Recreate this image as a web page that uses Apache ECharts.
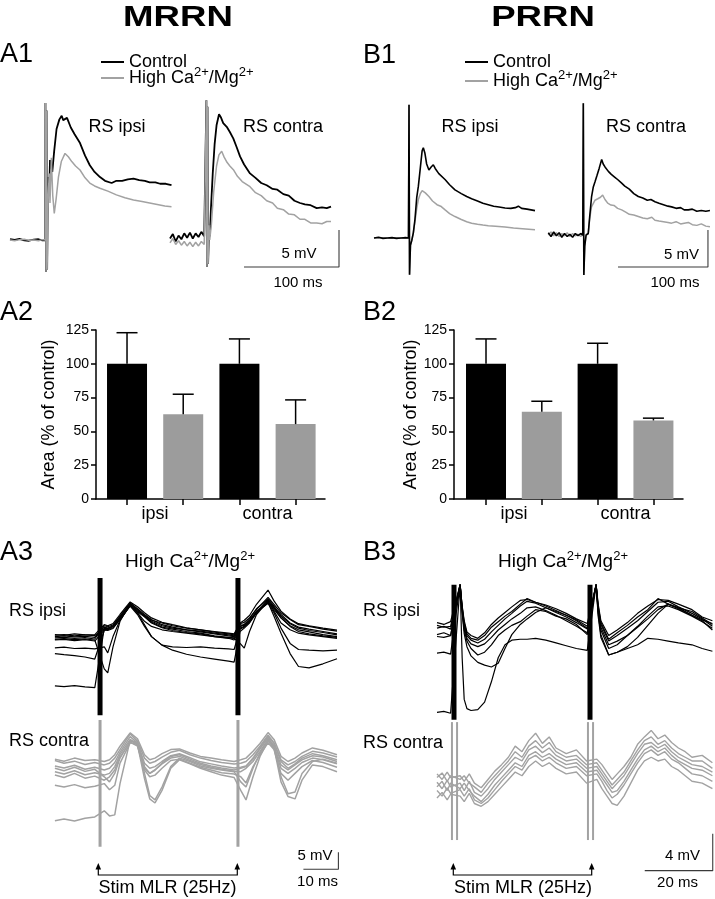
<!DOCTYPE html>
<html><head><meta charset="utf-8">
<script src="https://cdn.jsdelivr.net/npm/echarts@6/dist/echarts.min.js"></script>
<style>html,body{margin:0;padding:0;background:#fff}#c{width:715px;height:899px}</style>
</head><body><div id="c"></div>
<script>
// ---------------- DATA ----------------
// A1 (MRRN) averaged traces: [time ms, mV]
const a1IpsiControl = [[0,0.1],[5,0.0],[10,0.15],[15,-0.05],[20,-0.1],[25,0.05],[30,0.1],[34,-0.05],[37,0.0],
 [37.3,18.5],[37.9,-4.3],[38.5,17.5],[39.1,-4.0],[39.8,6],[40.6,8.5],[41.3,6.5],[42.1,10.8],[44.5,9.2],[46.5,12],[49,15],[52,16.3],[54.4,16.8],[56,16.2],[58,16.0],[60,16.5],[61.4,16.4],[64,15.2],[68,14.3],[73.7,13.1],[79,11.4],[84,10.1],[89,9.2],[94.7,8.5],[100,8.0],[107,7.7],[112,8.0],[118,8.0],[124,8.2],[130,8.3],[136,8.1],[142,8.0],[147,7.8],[153,7.8],[158,7.6],[164,7.6],[170,7.4]];
const a1IpsiHigh = [[0,0.0],[5,-0.1],[10,0.05],[15,0.1],[20,-0.05],[25,0.0],[30,-0.1],[34,0.05],[37,0.0],
 [37.3,18.5],[37.9,-4.3],[38.5,17.5],[39.1,-4.0],[39.8,4],[40.6,7],[41.3,9],[42.1,5.0],[43.5,11.1],[45,6],[46.6,3.6],[48.5,5.5],[51,8.5],[54,10.6],[57.9,11.7],[61.4,11.25],[65,10.6],[69,10.0],[73.7,9.46],[79,8.4],[84,7.7],[89,7.3],[94.7,7.0],[103,6.6],[112,6.1],[121,5.7],[130,5.4],[139,5.2],[147,5.0],[155,4.8],[163,4.6],[170,4.5]];
const a1ContraControl = [[0,0.2],[3,0.8],[6,-0.2],[9,0.6],[12,0.1],[15,0.9],[18,0.3],[21,1.0],[24,0.2],[27,0.9],[30,0.4],[33,1.1],[36,0.5],[38,0.3],
 [38.3,18.9],[38.9,-3.6],[39.5,18.0],[40.1,-3.2],[41,1],[42,0.5],[43,4],[45,9],[47,13],[49,15.5],[51.6,17.0],[53.5,16.6],[56,15.8],[59.7,15.3],[63,14.6],[66.7,13.7],[70,12.6],[73.7,11.3],[78,10.2],[84.2,9.0],[90,8.4],[96,7.7],[101.8,7.4],[108,6.9],[113,6.8],[119.3,6.2],[125,6.0],[131,5.3],[136.8,5.0],[142,4.8],[148,4.7],[154.4,4.3],[160,4.4],[165,4.3],[169.5,4.5]];
const a1ContraHigh = [[0,-0.4],[3,0.2],[6,-0.6],[9,-0.1],[12,-0.7],[15,-0.2],[18,-0.8],[21,-0.3],[24,-0.9],[27,-0.3],[30,-0.8],[33,-0.2],[36,-0.6],[38,-0.4],
 [38.3,18.9],[38.9,-3.6],[39.5,18.0],[40.1,-3.2],[41,2],[41.8,0.0],[43.5,2],[46,6.5],[49,10],[51.5,11.5],[54.4,12.0],[57,11.2],[60,10.5],[63,10.0],[66.7,9.5],[71,8.6],[76,7.9],[84.2,7.2],[90,6.4],[96,6.0],[101.8,5.3],[108,5.0],[113,4.3],[119.3,4.1],[125,3.5],[131,3.4],[136.8,2.8],[142,2.8],[148,2.3],[154.4,2.3],[160,2.2],[165,2.5],[169.5,2.5]];
// B1 (PRRN) averaged traces
const b1IpsiControl = [[0,0.0],[5,0.1],[10,-0.05],[15,0.0],[20,0.05],[25,-0.05],[30,0.0],[35,0.05],[38.3,0.0],
 [38.9,18.0],[39.5,-4.95],[40.5,-1],[42,-0.3],[43.7,0.7],[45.5,2.5],[47.5,5.5],[49.3,7.0],[51.5,9.5],[53.5,11.8],[54.8,12.2],[56.5,11.5],[58.5,10.0],[61,9.2],[63.5,9.6],[65.9,9.9],[68,9.4],[72,8.7],[78.9,7.9],[84,7.2],[90,6.5],[97,6.0],[103,5.6],[108.5,5.3],[115,5.0],[121,4.7],[127,4.5],[133,4.3],[139,4.2],[145.6,4.05],[152,4.0],[157,4.1],[160.4,4.3],[164,4.0],[170,3.9],[178.9,3.7]];
const b1IpsiHigh = [[0,0.0],[5,-0.05],[10,0.05],[15,0.0],[20,-0.05],[25,0.05],[30,0.0],[35,-0.05],[38.3,0.0],
 [38.9,18.0],[39.5,-4.95],[40.5,-1],[42,-0.3],[43.7,0.7],[45.5,2.2],[47.5,4.0],[49.3,5.2],[51.5,6.0],[53.5,6.4],[54.8,6.5],[57,6.1],[61,5.6],[65,5.0],[70,4.5],[74.1,4.3],[79,3.8],[84,3.3],[90,2.9],[97,2.5],[103,2.2],[108.5,2.0],[115,1.85],[121,1.75],[127,1.67],[135,1.6],[145.6,1.5],[155,1.35],[165,1.25],[178.9,1.1]];
const b1ContraControl = [[0,0.3],[3,-0.2],[6,0.4],[9,-0.1],[12,0.3],[15,-0.3],[18,0.2],[21,-0.2],[24,0.1],[27,-0.3],[30,0.2],[33,-0.1],[36,0.2],[38.3,0.0],
 [38.9,17.8],[39.5,-5.4],[40.5,-1.5],[42,0.0],[44.4,0.2],[46,2.5],[48.1,5.2],[50,6.5],[51.9,7.2],[54,8.0],[56.5,9.0],[59.3,10.2],[61,9.6],[63,9.2],[66.7,8.6],[70,8.2],[74,7.8],[77,7.5],[81.5,7.0],[85,6.6],[90,6.2],[95,5.6],[100,5.2],[105,5.0],[110,4.7],[114,4.8],[118.5,4.5],[123,4.3],[128,4.1],[133,3.9],[137,3.8],[142,3.6],[147,3.7],[151,3.4],[155.6,3.4],[160,3.5],[165,3.2],[170,3.3],[175,3.2],[179.6,3.3]];
const b1ContraHigh = [[0,0.0],[3,0.4],[6,-0.1],[9,0.3],[12,-0.2],[15,0.2],[18,-0.1],[21,0.3],[24,-0.2],[27,0.2],[30,-0.1],[33,0.1],[36,-0.2],[38.3,0.0],
 [38.9,17.8],[39.5,-5.4],[40.5,-1.5],[42,0.0],[44.4,0.2],[46,2.2],[48,3.8],[51.9,4.7],[55,4.9],[58,5.1],[60.4,5.4],[63,4.8],[66,4.3],[69.6,4.05],[73,4.0],[77,3.6],[81.5,3.4],[86,3.1],[90,2.8],[95,2.7],[100,2.5],[105,2.3],[110,2.2],[115,2.4],[118.5,2.0],[123,1.9],[128,1.8],[133,1.7],[137,1.6],[142,1.8],[147,1.5],[151,1.6],[155.6,1.7],[160,1.4],[165,1.3],[170,1.5],[175,1.2],[179.6,1.1]];

// A2 / B2 bar charts: Area (% of control)
const barGroups = ['ipsi', 'contra'];
const a2Control = [100, 100];
const a2ControlErr = [23.0, 18.4];
const a2High = [62.7, 55.4];
const a2HighErr = [14.8, 17.9];
const b2Control = [100, 100];
const b2ControlErr = [18.4, 15.2];
const b2High = [64.5, 58.1];
const b2HighErr = [7.8, 1.7];

// A3 (MRRN) individual sweeps, high Ca2+/Mg2+, stim at 25 Hz
const stimA3 = [0.3, 39.7];
const tA3Ipsi = [-12.6,-10,-7,-4,-1.2, 1.5,2.5,4,6,8.9,11,13,15,18,21,25,29,33,37,38.6, 40.3,41.5,43,45,48.3,50,52,54.6,57,60,64,68];
const a3Ipsi = [
 [1.0,1.2,0.9,1.1,0.8, 3.8,3.5,4.0,6.5,10.9,9.2,7.5,6.0,4.5,3.8,3.0,2.6,2.0,1.5,1.2, 4.5,4.2,5.5,8.0,11.2,9.5,7.5,5.0,3.8,3.2,2.5,1.8],
 [0.6,0.8,0.5,0.7,0.3, 4.2,3.9,4.4,7.0,10.6,8.8,7.0,5.2,3.8,3.2,2.5,2.0,1.2,0.8,0.6, 3.9,4.6,5.8,8.5,10.9,9.0,6.5,4.2,3.0,2.4,1.6,1.0],
 [1.6,1.4,1.8,1.5,1.3, 3.2,3.0,3.6,6.2,10.2,8.5,7.2,5.8,5.0,4.2,3.5,3.0,2.5,2.0,1.8, 4.8,5.2,6.5,9.0,12.5,10.5,8.0,6.0,4.5,4.0,3.2,2.6],
 [0.2,0.4,0.1,0.3,0.0, -8.5,-9.7,-2.0,5.5,10.5,8.0,5.5,4.0,3.0,2.5,2.0,1.5,1.0,0.6,0.5, -1.0,-2.4,2.5,7.5,11.5,8.5,5.0,3.0,2.0,1.5,1.0,0.5],
 [-2.3,-2.1,-2.5,-2.4,-2.6, -2.0,-3.8,1.0,5.8,10.3,8.0,4.5,1.0,-1.5,-2.0,-2.2,-2.0,-2.4,-2.6,-2.8, 3.2,3.8,5.2,8.2,10.8,8.0,3.5,-1.0,-2.8,-3.0,-3.2,-3.0],
 [-4.0,-4.3,-4.6,-5.0,-5.6, 2.8,3.2,4.0,6.0,10.0,7.5,4.0,1.0,-1.5,-3.0,-4.2,-5.0,-5.6,-6.2,-6.5, 2.5,3.5,5.0,8.0,11.0,7.0,2.0,-4.0,-7.8,-8.2,-7.0,-5.5],
 [-13.5,-13.7,-13.4,-13.8,-14.0, 3.5,3.4,4.2,6.8,10.8,9.0,7.0,5.5,4.2,3.5,3.0,2.4,1.8,1.2,1.0, 4.0,4.5,6.2,9.2,12.0,10.0,7.0,4.8,3.5,2.8,2.2,1.5],
 [1.4,1.6,1.2,1.5,1.6, 4.5,4.2,4.8,7.5,11.2,9.8,8.0,6.5,5.2,4.5,3.6,3.0,2.3,1.8,1.5, 5.0,5.8,7.2,10.5,14.7,11.5,8.5,6.2,4.8,4.2,3.5,2.9],
 [0.0,0.2,-0.2,0.1,-0.3, 3.0,2.8,3.4,6.0,10.0,8.3,6.8,5.0,3.6,2.8,2.2,1.8,1.0,0.5,0.0, 3.5,4.0,5.5,8.2,11.8,9.5,6.5,4.0,2.5,1.8,1.2,0.8]
];
const tA3Contra = [-12.6,-10,-7,-4,-1.2, 1.5,3,4.5,6,8.9,11,13,14.5,16,18,20.5,23,26,29,32,35,38.6, 40.5,42,44,46,48.3,50,52,54,56,58,61,64,68];
const a3Contra = [
 [2.8,2.0,2.6,1.6,2.2, 1.5,2.0,3.5,6.0,10.6,8.5,3.5,2.0,2.5,3.8,5.2,5.8,4.5,3.5,2.8,2.2,1.8, 2.0,2.5,4.5,7.0,10.2,8.0,3.0,1.5,2.5,4.0,5.5,5.0,3.8],
 [1.2,0.6,1.4,0.2,0.8, 0.0,0.5,2.2,5.2,9.8,8.0,2.0,0.5,1.0,2.5,4.2,4.8,3.6,2.4,1.8,1.2,0.6, 0.8,1.2,3.2,6.2,9.5,7.0,1.5,0.0,1.5,3.0,4.2,3.8,2.5],
 [-0.5,-1.2,-0.2,-1.4,-0.8, -1.5,-1.0,1.0,4.5,9.0,7.5,1.0,-1.0,0.0,1.8,3.5,4.0,2.8,1.6,0.8,0.2,-0.4, -0.5,0.5,2.5,5.5,9.0,6.5,0.5,-1.0,0.5,2.2,3.5,3.0,1.8],
 [0.5,-0.2,0.8,-0.4,0.2, -2.0,-3.5,-1.0,3.5,8.5,7.8,-1.0,-7.5,-8.8,-5.0,1.0,3.5,2.5,1.2,0.5,0.0,-0.5, -3.5,-5.0,0.5,5.0,8.8,7.2,-2.0,-7.0,-6.5,-1.0,2.5,3.2,2.0],
 [-4.5,-5.0,-4.3,-5.2,-4.8, -4.0,-5.8,-4.5,2.0,8.0,7.5,-2.5,-8.5,-9.7,-6.0,0.5,3.0,1.8,0.5,-0.5,-1.5,-2.2, -6.0,-8.8,-2.0,4.0,8.5,6.5,-3.5,-7.8,-8.5,-3.0,1.5,1.0,-0.5],
 [-14.9,-14.4,-15.0,-14.2,-13.8, -12.0,-13.5,-13.2,-4.0,8.8,8.0,0.5,-1.0,0.0,2.0,4.0,4.5,3.2,2.0,1.2,0.6,0.0, 0.5,1.0,3.5,6.5,9.8,7.8,2.5,0.5,1.8,3.5,4.8,4.2,3.0],
 [3.2,2.6,3.5,2.8,3.0, 2.5,3.0,4.5,7.0,10.9,9.2,4.5,3.0,3.5,4.8,6.0,6.2,5.0,4.0,3.5,3.0,2.5, 3.0,3.5,5.5,7.8,11.0,9.0,4.0,2.5,3.5,5.0,6.5,5.8,4.5],
 [-1.5,-2.2,-1.0,-2.4,-1.8, -3.0,-2.0,0.0,3.8,8.2,7.0,0.0,-2.0,-1.5,0.5,2.8,3.2,2.0,0.8,0.0,-0.8,-1.2, -2.0,-3.8,1.0,4.5,8.0,6.0,-1.0,-3.0,-1.0,1.0,2.8,2.2,0.8]
];

// B3 (PRRN) individual sweeps
const stimB3 = [0, 40];
const tB3Ipsi = [-5,-3,-1, 1.8,2.4,3,3.8,5,7,9,11,13,15,17,19.5,21.5,24,27,30,33,36,39.2, 41.8,42.4,43.2,45.5,48,51,54,57,60,63,66,70,73,76];
const b3Ipsi = [
 [0.5,0.3,0.4, 4.9,2.5,0.8,-0.4,-0.9,-1.1,-0.6,0.3,0.9,1.5,2.0,2.8,3.4,3.0,2.6,2.1,1.6,1.1,0.4, 4.9,2.6,0.8,-1.0,-0.3,0.5,1.4,2.2,3.4,2.8,2.4,1.6,1.1,0.7],
 [0.2,0.4,0.1, 4.9,2.4,0.6,-0.6,-1.1,-1.4,-1.0,-0.2,0.5,1.2,1.8,2.6,3.1,2.9,2.4,1.9,1.4,0.8,0.1, 4.9,2.4,0.6,-1.2,-0.6,0.2,1.0,2.0,3.0,3.1,2.5,1.8,1.2,0.4],
 [-0.7,-0.8,-0.6, 4.9,2.2,0.3,-0.9,-1.5,-1.8,-1.5,-0.8,0.0,0.6,1.2,1.8,2.4,2.5,2.1,1.6,1.0,0.4,-0.3, 4.9,2.2,0.3,-1.6,-1.2,-0.6,0.3,1.2,2.2,2.8,2.4,2.0,1.3,0.6],
 [-0.5,-0.3,-0.6, 4.9,2.0,0.0,-1.2,-2.0,-2.7,-2.4,-1.6,-0.6,0.0,0.5,0.9,1.5,2.2,2.0,1.5,1.2,0.6,-0.5, 4.9,2.0,0.0,-2.0,-1.6,-0.6,0.4,1.5,2.5,2.6,2.2,1.5,0.9,0.2],
 [-2.5,-2.4,-2.6, 4.9,1.8,-0.4,-1.8,-2.8,-3.5,-3.8,-4.0,-3.6,-2.0,-0.5,0.6,1.2,1.9,2.4,2.0,1.6,1.0,0.2, 4.9,1.8,-0.5,-2.7,-2.4,-1.8,-0.8,0.5,1.8,2.8,2.3,1.6,1.0,0.0],
 [-8.9,-8.8,-9.0, 4.9,-3.0,-7.5,-8.5,-8.7,-8.6,-7.8,-5.6,-3.0,-1.6,-1.1,-1.0,-1.0,-0.9,-1.1,-1.4,-1.7,-2.0,-2.2, 4.9,1.5,-0.8,-2.7,-2.4,-2.0,-1.6,-0.9,-1.0,-1.2,-1.4,-1.6,-2.0,-2.3],
 [0.8,0.6,0.9, 4.9,2.6,1.0,-0.2,-0.6,-0.9,-0.3,0.6,1.3,1.9,2.5,3.2,3.3,3.0,2.7,2.3,1.8,1.2,0.7, 4.9,2.8,1.0,-0.6,0.0,0.8,1.8,2.6,3.3,3.2,2.8,2.2,1.4,1.0]
];
const tB3Contra = [-5,-3.5,-2,-1, 1.8,3,4.5,6,8,10,12,14,16,18,20,22,24,26,28,30,33,36,39, 42,43.5,45,46.5,48,50,52,54,56,58,60,62,64,66,68,70,73,76];
const b3Contra = [
 [1.2,0.6,1.4,0.8, 1.0,0.4,1.2,0.2,-0.3,0.6,1.5,2.2,3.0,4.2,3.6,4.8,5.6,4.5,5.2,4.0,3.4,3.8,2.6, 2.8,2.2,1.4,0.6,1.2,2.0,3.0,4.4,5.2,5.9,5.0,5.4,4.6,4.0,3.6,3.0,3.2,2.4],
 [0.3,-0.4,0.5,-0.2, 0.2,-0.6,0.4,-0.8,-1.2,-0.4,0.6,1.4,2.2,3.0,2.6,3.8,4.2,3.5,4.0,3.2,2.6,2.8,1.8, 2.0,1.2,0.4,-0.4,0.2,1.0,2.2,3.4,4.4,4.6,4.0,4.4,3.6,3.0,2.6,2.2,2.0,1.4],
 [-0.6,-1.2,-0.3,-0.9, -0.5,-1.2,-0.4,-1.6,-2.0,-1.4,-0.5,0.4,1.2,2.0,1.6,2.8,3.2,2.6,3.0,2.4,1.8,2.0,1.0, 1.2,0.4,-0.6,-1.4,-1.0,0.0,1.2,2.4,3.4,3.8,3.2,3.6,2.8,2.4,1.8,1.2,1.0,0.4],
 [-1.4,-0.8,-1.6,-1.0, -1.2,-1.8,-0.9,-2.0,-2.3,-1.8,-1.0,-0.2,0.6,1.4,1.0,2.0,2.6,2.0,2.4,1.8,1.2,1.4,0.2, 0.6,-0.4,-1.2,-2.0,-2.2,-1.2,0.2,1.6,2.6,3.0,2.6,2.8,2.0,1.6,1.0,0.4,0.2,-0.4],
 [0.8,1.3,0.4,1.0, 0.6,1.0,0.2,-0.2,-0.8,0.2,1.0,1.8,2.6,3.6,3.0,4.2,4.8,4.0,4.6,3.6,3.0,3.2,2.2, 2.4,1.6,0.8,0.0,0.6,1.4,2.6,3.8,4.8,5.2,4.4,4.8,4.0,3.4,3.0,2.6,2.6,1.8],
 [-0.2,0.4,-0.6,0.2, -0.4,0.2,-0.6,-1.2,-1.8,-1.0,0.0,0.8,1.6,2.4,2.0,3.2,3.6,3.0,3.4,2.8,2.2,2.4,1.4, 1.6,0.8,0.0,-0.8,-0.6,0.4,1.6,2.8,3.8,4.2,3.6,4.0,3.2,2.6,2.2,1.8,1.6,1.0]
];

// scale bars (ms, mV)
const scaleA1 = [100, 5], scaleB1 = [100, 5], scaleA3 = [10, 5], scaleB3 = [20, 4];

// ---------------- LAYOUT / BUILD ----------------
const FONT = '"Liberation Sans", Arial, Helvetica, sans-serif';
const BLACK = '#000000', GREY = '#a2a2a2';
const grids = [], xAxes = [], yAxes = [], series = [];

function traceGrid(left, top, width, height, ox, oy, pxX, pxY) {
  grids.push({left, top, width, height, containLabel: false});
  const gi = grids.length - 1;
  xAxes.push({type: 'value', gridIndex: gi, show: false, min: (left - ox) / pxX, max: (left + width - ox) / pxX});
  yAxes.push({type: 'value', gridIndex: gi, show: false, min: (oy - top - height) / pxY, max: (oy - top) / pxY});
  return gi;
}
function line(gi, data, color, width, z, name) {
  const s = {type: 'line', xAxisIndex: gi, yAxisIndex: gi, data, symbol: 'none', showSymbol: false,
    color, lineStyle: {color, width}, itemStyle: {color}, silent: true, clip: false, z, animation: false};
  if (name) s.name = name;
  return s;
}
const zip = (t, v) => t.map((x, i) => [x, v[i]]);

// A1 / B1
const gA1i = traceGrid(5, 88, 175, 192, 10, 240, 0.95, 7.4);
const gA1c = traceGrid(165, 88, 182, 192, 170, 240, 0.95, 7.4);
const gB1i = traceGrid(368, 88, 172, 192, 374, 238, 0.9, 7.4);
const gB1c = traceGrid(543, 88, 172, 192, 548.3, 235, 0.9, 7.4);
const CTRL = 'Control', HIGH = 'High Ca2+/Mg2+';
series.push(line(gA1i, a1IpsiControl, BLACK, 1.8, 3, CTRL));
series.push(line(gA1i, a1IpsiHigh, GREY, 1.5, 4, HIGH));
series.push(line(gA1c, a1ContraControl, BLACK, 1.8, 3, CTRL));
series.push(line(gA1c, a1ContraHigh, GREY, 1.5, 4, HIGH));
series.push(line(gB1i, b1IpsiHigh, GREY, 1.5, 3, HIGH));
series.push(line(gB1i, b1IpsiControl, BLACK, 1.6, 4, CTRL));
series.push(line(gB1c, b1ContraHigh, GREY, 1.5, 3, HIGH));
series.push(line(gB1c, b1ContraControl, BLACK, 1.6, 4, CTRL));

function scaleBar(gi, cornerT, cornerV, sb) {
  return line(gi, [[cornerT - sb[0], cornerV], [cornerT, cornerV], [cornerT, cornerV + sb[1]]], '#3a3a3a', 1.1, 5);
}
series.push(scaleBar(gA1c, 177.9, -3.65, scaleA1));
series.push(scaleBar(gB1c, 177.4, -4.32, scaleB1));

// A3 / B3
const gA3i = traceGrid(50, 570, 295, 150, 99, 640, 3.5, 3.4);
const gA3c = traceGrid(50, 715, 295, 162, 99, 770, 3.5, 3.4);
const gB3i = traceGrid(432, 575, 283, 150, 454, 630, 3.4, 9.25);
const gB3c = traceGrid(432, 715, 283, 162, 454, 785, 3.4, 9.25);
a3Ipsi.forEach(v => series.push(line(gA3i, zip(tA3Ipsi, v), BLACK, 1.2, 3)));
a3Contra.forEach(v => series.push(line(gA3c, zip(tA3Contra, v), GREY, 1.5, 3)));
b3Ipsi.forEach(v => series.push(line(gB3i, zip(tB3Ipsi, v), BLACK, 1.2, 3)));
b3Contra.forEach(v => series.push(line(gB3c, zip(tB3Contra, v), GREY, 1.4, 3)));
stimA3.forEach(s => {
  series.push(line(gA3i, [[s, 18.2], [s, -22.1]], BLACK, 5, 6));
  series.push(line(gA3c, [[s, 14.7], [s, -22.6]], GREY, 3, 6));
});
stimB3.forEach(s => {
  series.push(line(gB3i, [[s, 4.9], [s, -9.7]], BLACK, 5, 6));
  series.push(line(gB3c, [[s - 0.6, 6.8], [s - 0.6, -5.95]], GREY, 2, 6));
  series.push(line(gB3c, [[s + 0.9, 6.8], [s + 0.9, -5.95]], GREY, 2, 6));
});
series.push(scaleBar(gA3c, 68.4, -29.2, scaleA3));
series.push(scaleBar(gB3c, 76.1, -9.26, scaleB3));

// A2 / B2 bar charts
function barPanel(left, xmin, xmax, ctrl, ctrlErr, high, highErr, nameGap) {
  grids.push({left, top: 330, width: 229, height: 169, containLabel: false});
  const gi = grids.length - 1;
  const catPos = barGroups.map((g, i) => [2 * i + 1, 2 * i + 2]);
  xAxes.push({type: 'value', gridIndex: gi, min: xmin, max: xmax, splitLine: {show: false},
    axisLine: {show: true, onZero: false, lineStyle: {color: '#000', width: 1.5}},
    axisTick: {show: true, length: 6, lineStyle: {color: '#000', width: 1.5}, customValues: catPos.flat()},
    axisLabel: {show: true, margin: 6, fontSize: 18, fontFamily: FONT, color: '#000',
      customValues: catPos.map(p => (p[0] + p[1]) / 2),
      formatter: v => barGroups[Math.round((v - 1.5) / 2)]}});
  yAxes.push({type: 'value', gridIndex: gi, min: 0, max: 125, interval: 25, splitLine: {show: false},
    axisLine: {show: true, lineStyle: {color: '#000', width: 1.5}},
    axisTick: {show: true, length: 5, lineStyle: {color: '#000', width: 1.5}},
    axisLabel: {fontSize: 14, fontFamily: FONT, color: '#000', margin: 7},
    name: 'Area (% of control)', nameLocation: 'middle', nameGap, nameRotate: 90,
    nameTextStyle: {fontSize: 18, fontFamily: FONT, color: '#000'}});
  const bar = (vals, color, k) => ({type: 'bar', xAxisIndex: gi, yAxisIndex: gi, barWidth: 40, barGap: '-100%',
    data: vals.map((v, i) => [catPos[i][k], v]), itemStyle: {color}, silent: true, z: 2});
  series.push(bar(ctrl, BLACK, 0));
  series.push(bar(high, '#9c9c9c', 1));
  const errData = [];
  barGroups.forEach((g, i) => {
    errData.push([catPos[i][0], ctrl[i], ctrl[i] + ctrlErr[i]]);
    errData.push([catPos[i][1], high[i], high[i] + highErr[i]]);
  });
  series.push({type: 'custom', xAxisIndex: gi, yAxisIndex: gi, data: errData, silent: true, z: 4,
    renderItem: (params, api) => {
      const p0 = api.coord([api.value(0), api.value(1)]);
      const p1 = api.coord([api.value(0), api.value(2)]);
      const st = {stroke: '#000', lineWidth: 1.5};
      return {type: 'group', children: [
        {type: 'line', shape: {x1: p0[0], y1: p0[1], x2: p1[0], y2: p1[1]}, style: st},
        {type: 'line', shape: {x1: p1[0] - 10.5, y1: p1[1], x2: p1[0] + 10.5, y2: p1[1]}, style: st}]};
    }});
}
barPanel(96, 0.448, 4.523, a2Control, a2ControlErr, a2High, a2HighErr, 38);
barPanel(454, 0.4265, 4.530, b2Control, b2ControlErr, b2High, b2HighErr, 31);

// ---------------- TEXT ----------------
const supStyle = lh => ({fontSize: 13, padding: [0, 0, 11, 0], lineHeight: lh, fontFamily: FONT, fill: '#000', color: '#000'});
function txt(text, x, y, size, align, extra) {
  return Object.assign({type: 'text', x, y, silent: true,
    style: Object.assign({text, fontSize: size, fontFamily: FONT, fill: '#000',
      align: align || 'center', verticalAlign: 'middle', textAlign: align || 'center', textVerticalAlign: 'middle'}, (extra && extra.style) || {})},
    (extra && extra.el) || {});
}
const graphics = [
  txt('MRRN', 178, 18, 30, 'center', {style: {fontWeight: 'bold'}, el: {scaleX: 1.22}}),
  txt('PRRN', 543, 18, 30, 'center', {style: {fontWeight: 'bold'}, el: {scaleX: 1.22}}),
  txt('A1', 0, 55, 27, 'left'), txt('B1', 363, 56, 27, 'left'),
  txt('A2', 0, 312.5, 27, 'left'), txt('B2', 363, 313, 27, 'left'),
  txt('A3', 0, 553, 27, 'left'), txt('B3', 363, 553, 27, 'left'),
  txt('RS ipsi', 117, 127.5, 18), txt('RS contra', 283, 127.5, 18),
  txt('RS ipsi', 470, 127.5, 18), txt('RS contra', 646, 127.5, 18),
  txt('RS ipsi', 9, 611, 18, 'left'), txt('RS contra', 9, 741.5, 18, 'left'),
  txt('RS ipsi', 363, 611.5, 18, 'left'), txt('RS contra', 363, 743, 18, 'left'),
  txt('5 mV', 299, 253.5, 15), txt('100 ms', 298, 282.5, 15),
  txt('5 mV', 681.5, 255, 15), txt('100 ms', 675, 282.5, 15),
  txt('5 mV', 315, 856, 15), txt('10 ms', 317.5, 882, 15),
  txt('4 mV', 682.5, 856, 15), txt('20 ms', 677.5, 882.5, 15),
  txt('High Ca{s|2+}/Mg{s|2+}', 190, 562, 19, 'center', {style: {lineHeight: 18, rich: {s: supStyle(18)}}}),
  txt('High Ca{s|2+}/Mg{s|2+}', 563, 562, 19, 'center', {style: {lineHeight: 18, rich: {s: supStyle(18)}}}),
  txt('Stim MLR (25Hz)', 167.5, 888, 18), txt('Stim MLR (25Hz)', 523, 888, 18)
];
function stimBracket(x1, x2) {
  const st = {stroke: '#000', lineWidth: 1.2, fill: 'none'};
  graphics.push({type: 'polyline', silent: true, shape: {points: [[x1, 867], [x1, 875], [x2, 875], [x2, 867]]}, style: st});
  [x1, x2].forEach(x => graphics.push({type: 'polygon', silent: true,
    shape: {points: [[x - 2.8, 869.5], [x, 863], [x + 2.8, 869.5]]}, style: {fill: '#000'}}));
}
stimBracket(98.3, 237.3);
stimBracket(453.3, 591.7);

const legendBase = {orient: 'vertical', icon: 'rect', itemWidth: 23, itemHeight: 2, padding: 0,
  selectedMode: false, data: [CTRL, HIGH],
  formatter: n => n === HIGH ? 'High Ca{s|2+}/Mg{s|2+}' : n,
  textStyle: {fontFamily: FONT, fontSize: 18, lineHeight: 17, color: '#000', rich: {s: supStyle(17)}}};

const chart = echarts.init(document.getElementById('c'), null, {renderer: 'canvas'});
chart.setOption({
  backgroundColor: '#fff', animation: false,
  grid: grids, xAxis: xAxes, yAxis: yAxes, series,
  legend: [Object.assign({left: 101, top: 53, itemGap: -5}, legendBase),
           Object.assign({left: 465, top: 53, itemGap: -2}, legendBase)],
  graphic: graphics
});
</script></body></html>
